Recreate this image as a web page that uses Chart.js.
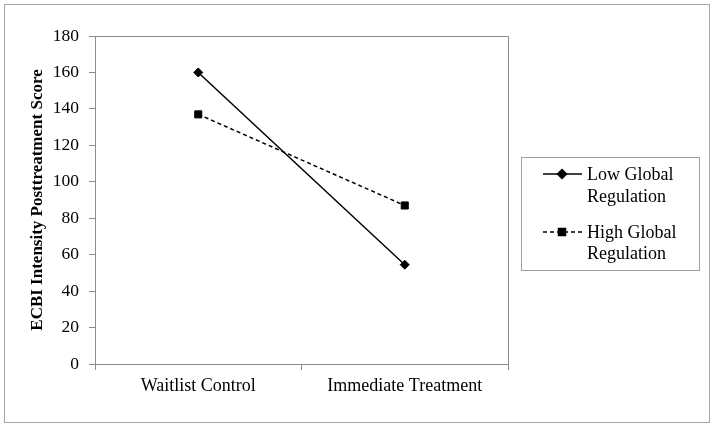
<!DOCTYPE html>
<html>
<head>
<meta charset="utf-8">
<script src="https://cdn.jsdelivr.net/npm/chart.js@4/dist/chart.umd.min.js"></script>
<style>
html,body{margin:0;padding:0;background:#fff;}
#wrap{width:714px;height:428px;}
</style>
</head>
<body>
<div id="wrap"><canvas id="c" width="714" height="428"></canvas></div>
<script>
const categories = ["Waitlist Control", "Immediate Treatment"];
const lowGlobal = [160, 54.5];
const highGlobal = [137, 87];
const seriesNames = [["Low Global", "Regulation"], ["High Global", "Regulation"]];
const yTicks = [0, 20, 40, 60, 80, 100, 120, 140, 160, 180];
const yTitle = "ECBI Intensity Posttreatment Score";

const FONT = "'Liberation Serif', 'Times New Roman', serif";
const GRAY = "#8c8c8c";

const framePlugin = {
  id: 'frame',
  beforeDraw(chart) {
    const ctx = chart.ctx;
    ctx.save();
    ctx.fillStyle = '#fff';
    ctx.fillRect(0, 0, chart.width, chart.height);
    ctx.strokeStyle = '#a6a6a6';
    ctx.lineWidth = 1;
    ctx.strokeRect(4.5, 4.5, 705, 418);
    ctx.restore();
  },
  afterDraw(chart) {
    const ctx = chart.ctx;
    const a = chart.chartArea;
    ctx.save();
    ctx.strokeStyle = GRAY;
    ctx.lineWidth = 1;
    ctx.beginPath();
    ctx.moveTo(Math.round(a.left) + 0.5, Math.round(a.top) + 0.5);
    ctx.lineTo(Math.round(a.right) + 0.5, Math.round(a.top) + 0.5);
    ctx.lineTo(Math.round(a.right) + 0.5, Math.round(a.bottom) + 0.5);
    ctx.stroke();
    // legend
    const lx = 521, ly = 157, lw = 178, lh = 113;
    ctx.strokeStyle = '#a0a0a0';
    ctx.strokeRect(lx + 0.5, ly + 0.5, lw, lh);
    const rows = [[174, 175, 197], [232, 233, 254]];
    chart.data.datasets.forEach((ds, i) => {
      const [lineY, t1, t2] = rows[i];
      ctx.strokeStyle = ds.borderColor;
      ctx.lineWidth = ds.borderWidth;
      ctx.setLineDash(ds.borderDash || []);
      ctx.beginPath();
      ctx.moveTo(543, lineY);
      ctx.lineTo(582, lineY);
      ctx.stroke();
      ctx.setLineDash([]);
      Chart.helpers.drawPoint(ctx, {pointStyle: ds.pointStyle, radius: ds.pointRadius, borderWidth: 1}, 562, lineY);
      ctx.fillStyle = '#000';
      ctx.font = "18px " + FONT;
      ctx.textBaseline = 'middle';
      ctx.textAlign = 'left';
      ctx.fillText(seriesNames[i][0], 587, t1);
      ctx.fillText(seriesNames[i][1], 587, t2);
    });
    ctx.restore();
  }
};

new Chart(document.getElementById('c'), {
  type: 'line',
  data: {
    labels: categories,
    datasets: [
      {
        label: seriesNames[0].join(' '),
        data: lowGlobal,
        borderColor: '#000',
        backgroundColor: '#000',
        borderWidth: 1.5,
        pointStyle: 'rectRot',
        pointRadius: 4.5,
        pointBorderWidth: 1,
        fill: false,
        tension: 0
      },
      {
        label: seriesNames[1].join(' '),
        data: highGlobal,
        borderColor: '#000',
        backgroundColor: '#000',
        borderWidth: 1.5,
        borderDash: [4, 3],
        pointStyle: 'rect',
        pointRadius: 5,
        pointBorderWidth: 1,
        fill: false,
        tension: 0
      }
    ]
  },
  options: {
    responsive: false,
    animation: false,
    devicePixelRatio: 1,
    layout: { padding: { top: 36, right: 206, bottom: 0, left: 0 } },
    plugins: { legend: { display: false }, tooltip: { enabled: false } },
    scales: {
      x: {
        offset: true,
        grid: { offset: true, drawOnChartArea: false, drawTicks: true, tickLength: 6, color: GRAY },
        border: { color: GRAY, width: 1 },
        ticks: { color: '#000', font: { family: FONT, size: 18 }, padding: 5, maxRotation: 0 },
        afterFit(s) { s.height = 64; }
      },
      y: {
        min: 0, max: 180,
        afterBuildTicks(s) { s.ticks = yTicks.map(v => ({ value: v })); },
        grid: { drawOnChartArea: false, drawTicks: true, tickLength: 6, color: GRAY },
        border: { color: GRAY, width: 1 },
        ticks: { color: '#000', font: { family: FONT, size: 17.5 }, padding: 10 },
        title: { display: true, text: yTitle, color: '#000', font: { family: FONT, size: 17, weight: 'bold' }, padding: { top: 27, bottom: 0 } },
        afterFit(s) { s.width = 95; }
      }
    }
  },
  plugins: [framePlugin]
});
</script>
</body>
</html>
